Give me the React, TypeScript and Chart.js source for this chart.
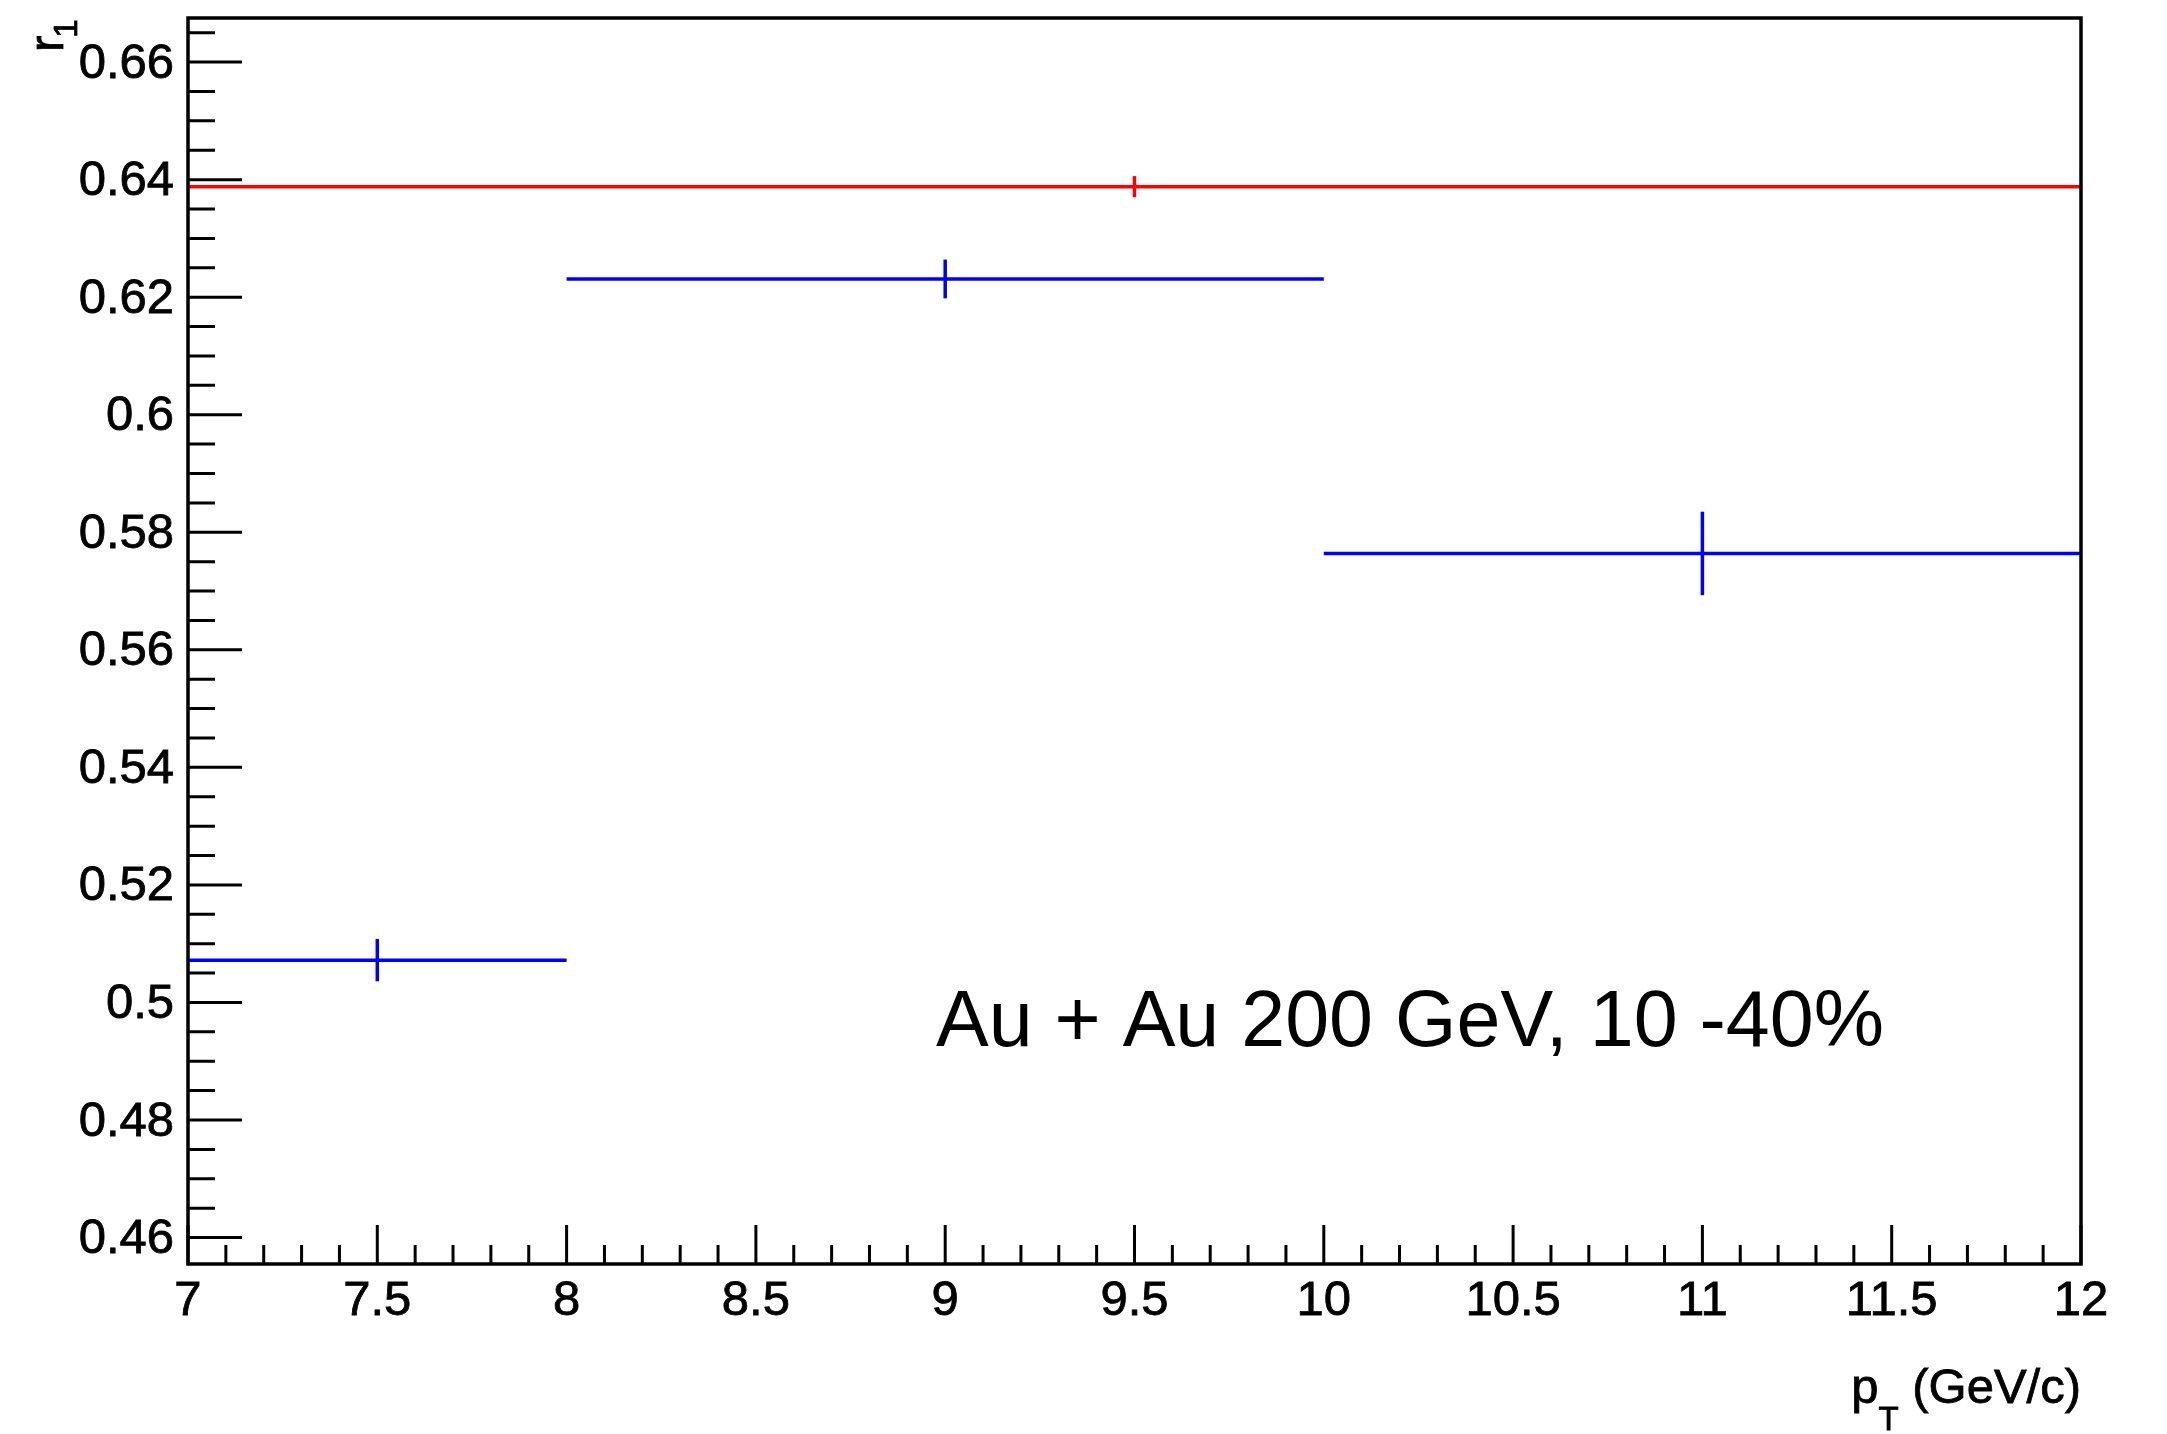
import React, { useEffect, useRef } from "react";
import { Chart, registerables } from "chart.js";

Chart.register(...registerables);

// ---- tick values / labels ----
const xTickValues = [7, 7.5, 8, 8.5, 9, 9.5, 10, 10.5, 11, 11.5, 12];
const xTickLabels = ["7", "7.5", "8", "8.5", "9", "9.5", "10", "10.5", "11", "11.5", "12"];
const yTickValues = [0.46, 0.48, 0.5, 0.52, 0.54, 0.56, 0.58, 0.6, 0.62, 0.64, 0.66];
const yTickLabels = ["0.46", "0.48", "0.5", "0.52", "0.54", "0.56", "0.58", "0.6", "0.62", "0.64", "0.66"];

// ---- axis ranges ----
const X_MIN = 7;
const X_MAX = 12;
const Y_MIN = 0.4555;
const Y_MAX = 0.6675;

// ---- blue series (bins) ----
const blueX = [7.5, 9, 11];
const blueXLow = [7, 8, 10];
const blueXHigh = [8, 10, 12];
const blueY = [0.5072, 0.6231, 0.5764];
const blueYErr = [0.0036, 0.0033, 0.0071];

// ---- red series (integrated) ----
const redX = [9.5];
const redXLow = [7];
const redXHigh = [12];
const redY = [0.6388];
const redYErr = [0.0018];

const FONT = "'Liberation Sans', Arial, Helvetica, sans-serif";

function errorDatasets(
  x: number[],
  xl: number[],
  xh: number[],
  y: number[],
  ye: number[],
  color: string
) {
  const out: any[] = [];
  for (let i = 0; i < x.length; i++) {
    out.push({
      data: [
        { x: xl[i], y: y[i] },
        { x: xh[i], y: y[i] },
      ],
      borderColor: color,
      borderWidth: 3.5,
      pointRadius: 0,
      fill: false,
      tension: 0,
    });
    out.push({
      data: [
        { x: x[i], y: y[i] - ye[i] },
        { x: x[i], y: y[i] + ye[i] },
      ],
      borderColor: color,
      borderWidth: 3.5,
      pointRadius: 0,
      fill: false,
      tension: 0,
    });
  }
  return out;
}

const rootPlugin = {
  id: "rootFrame",
  afterDraw(chart: any) {
    const { ctx, chartArea: ca, scales } = chart;
    const xs = scales.x;
    const ys = scales.y;
    ctx.save();
    ctx.strokeStyle = "#000";
    // ticks
    ctx.lineWidth = 3;
    ctx.beginPath();
    for (let i = 0; i < xTickValues.length; i++) {
      const px = xs.getPixelForValue(xTickValues[i]);
      ctx.moveTo(px, ca.bottom);
      ctx.lineTo(px, ca.bottom - 39);
      if (i < xTickValues.length - 1) {
        const step = (xTickValues[i + 1] - xTickValues[i]) / 5;
        for (let k = 1; k < 5; k++) {
          const mx = xs.getPixelForValue(xTickValues[i] + k * step);
          ctx.moveTo(mx, ca.bottom);
          ctx.lineTo(mx, ca.bottom - 19);
        }
      }
    }
    const yStep = (yTickValues[1] - yTickValues[0]) / 4;
    for (let i = 0; i < yTickValues.length; i++) {
      const py = ys.getPixelForValue(yTickValues[i]);
      ctx.moveTo(ca.left, py);
      ctx.lineTo(ca.left + 54, py);
      for (let k = 1; k < 4; k++) {
        const v = yTickValues[i] + k * yStep;
        if (v > Y_MAX) continue;
        const my = ys.getPixelForValue(v);
        ctx.moveTo(ca.left, my);
        ctx.lineTo(ca.left + 27, my);
      }
      if (i === 0) {
        for (let k = 1; k < 4; k++) {
          const v = yTickValues[0] - k * yStep;
          if (v < Y_MIN) continue;
          const my = ys.getPixelForValue(v);
          ctx.moveTo(ca.left, my);
          ctx.lineTo(ca.left + 27, my);
        }
      }
    }
    ctx.stroke();
    // frame
    ctx.lineWidth = 3.5;
    ctx.strokeRect(ca.left, ca.top, ca.right - ca.left, ca.bottom - ca.top);

    // x axis title: p_T (GeV/c), right-aligned at the axis end
    ctx.fillStyle = "#000";
    ctx.strokeStyle = "#000";
    ctx.lineWidth = 0.8;
    ctx.textBaseline = "alphabetic";
    ctx.textAlign = "left";
    const mainFont = `49px ${FONT}`;
    const subFont = `33px ${FONT}`;
    ctx.font = mainFont;
    const wP = ctx.measureText("p").width;
    const wRest = ctx.measureText(" (GeV/c)").width;
    ctx.font = subFont;
    const wT = ctx.measureText("T").width;
    const total = wP + wT + wRest;
    let tx = ca.right - total;
    const baseY = ca.bottom + 139;
    const draw = (s: string, x: number, y: number) => {
      ctx.fillText(s, x, y);
      ctx.strokeText(s, x, y);
    };
    ctx.font = mainFont;
    draw("p", tx, baseY);
    tx += wP;
    ctx.font = subFont;
    draw("T", tx, baseY + 27);
    tx += wT;
    ctx.font = mainFont;
    draw(" (GeV/c)", tx, baseY);

    // y axis title: r_1, rotated
    ctx.save();
    ctx.translate(63, ca.top + 34);
    ctx.rotate(-Math.PI / 2);
    ctx.font = mainFont;
    ctx.textAlign = "left";
    draw("r", 0, 0);
    const wr = ctx.measureText("r").width;
    ctx.font = subFont;
    draw("1", wr - 2, 14);
    ctx.restore();

    // annotation
    ctx.font = `79px ${FONT}`;
    ctx.textAlign = "left";
    ctx.fillText("Au + Au 200 GeV, 10 -40%", ca.left + 748, ca.top + 1028);
    ctx.restore();
  },
};

export default function App() {
  const canvasRef = useRef<HTMLCanvasElement | null>(null);

  useEffect(() => {
    document.body.style.margin = "0";
    document.body.style.background = "#fff";
    const canvas = canvasRef.current;
    if (!canvas) return;
    const datasets = [
      ...errorDatasets(redX, redXLow, redXHigh, redY, redYErr, "#ff0000"),
      ...errorDatasets(blueX, blueXLow, blueXHigh, blueY, blueYErr, "#0000ff"),
    ];
    const chart = new Chart(canvas, {
      type: "line",
      data: { datasets },
      options: {
        animation: false,
        responsive: false,
        devicePixelRatio: 1,
        layout: {
          autoPadding: false,
          padding: { left: 0, top: 18, right: 86, bottom: 0 },
        },
        plugins: {
          legend: { display: false },
          tooltip: { enabled: false },
          title: { display: false },
        },
        scales: {
          x: {
            type: "linear",
            min: X_MIN,
            max: X_MAX,
            grid: { display: false, drawTicks: false },
            border: { display: false },
            afterBuildTicks: (scale: any) => {
              scale.ticks = xTickValues.map((v) => ({ value: v }));
            },
            afterFit: (scale: any) => {
              scale.height = 170;
              scale.paddingLeft = 0;
              scale.paddingRight = 0;
              scale.paddingTop = 0;
              scale.paddingBottom = 0;
            },
            ticks: {
              color: "#000",
              padding: 8,
              maxRotation: 0,
              autoSkip: false,
              textStrokeColor: "#000",
              textStrokeWidth: 0.8,
              font: { family: FONT, size: 49 },
              callback: (_v: any, i: number) => xTickLabels[i],
            },
          },
          y: {
            type: "linear",
            min: Y_MIN,
            max: Y_MAX,
            grid: { display: false, drawTicks: false },
            border: { display: false },
            afterBuildTicks: (scale: any) => {
              scale.ticks = yTickValues.map((v) => ({ value: v }));
            },
            afterFit: (scale: any) => {
              scale.width = 188;
              scale.paddingLeft = 0;
              scale.paddingRight = 0;
              scale.paddingTop = 0;
              scale.paddingBottom = 0;
            },
            ticks: {
              color: "#000",
              padding: 14,
              labelOffset: 2,
              autoSkip: false,
              textStrokeColor: "#000",
              textStrokeWidth: 0.8,
              font: { family: FONT, size: 49 },
              callback: (_v: any, i: number) => yTickLabels[i],
            },
          },
        },
      },
      plugins: [rootPlugin],
    });
    return () => chart.destroy();
  }, []);

  return (
    <div style={{ width: 2167, height: 1434, background: "#fff" }}>
      <canvas ref={canvasRef} width={2167} height={1434} style={{ display: "block" }} />
    </div>
  );
}
